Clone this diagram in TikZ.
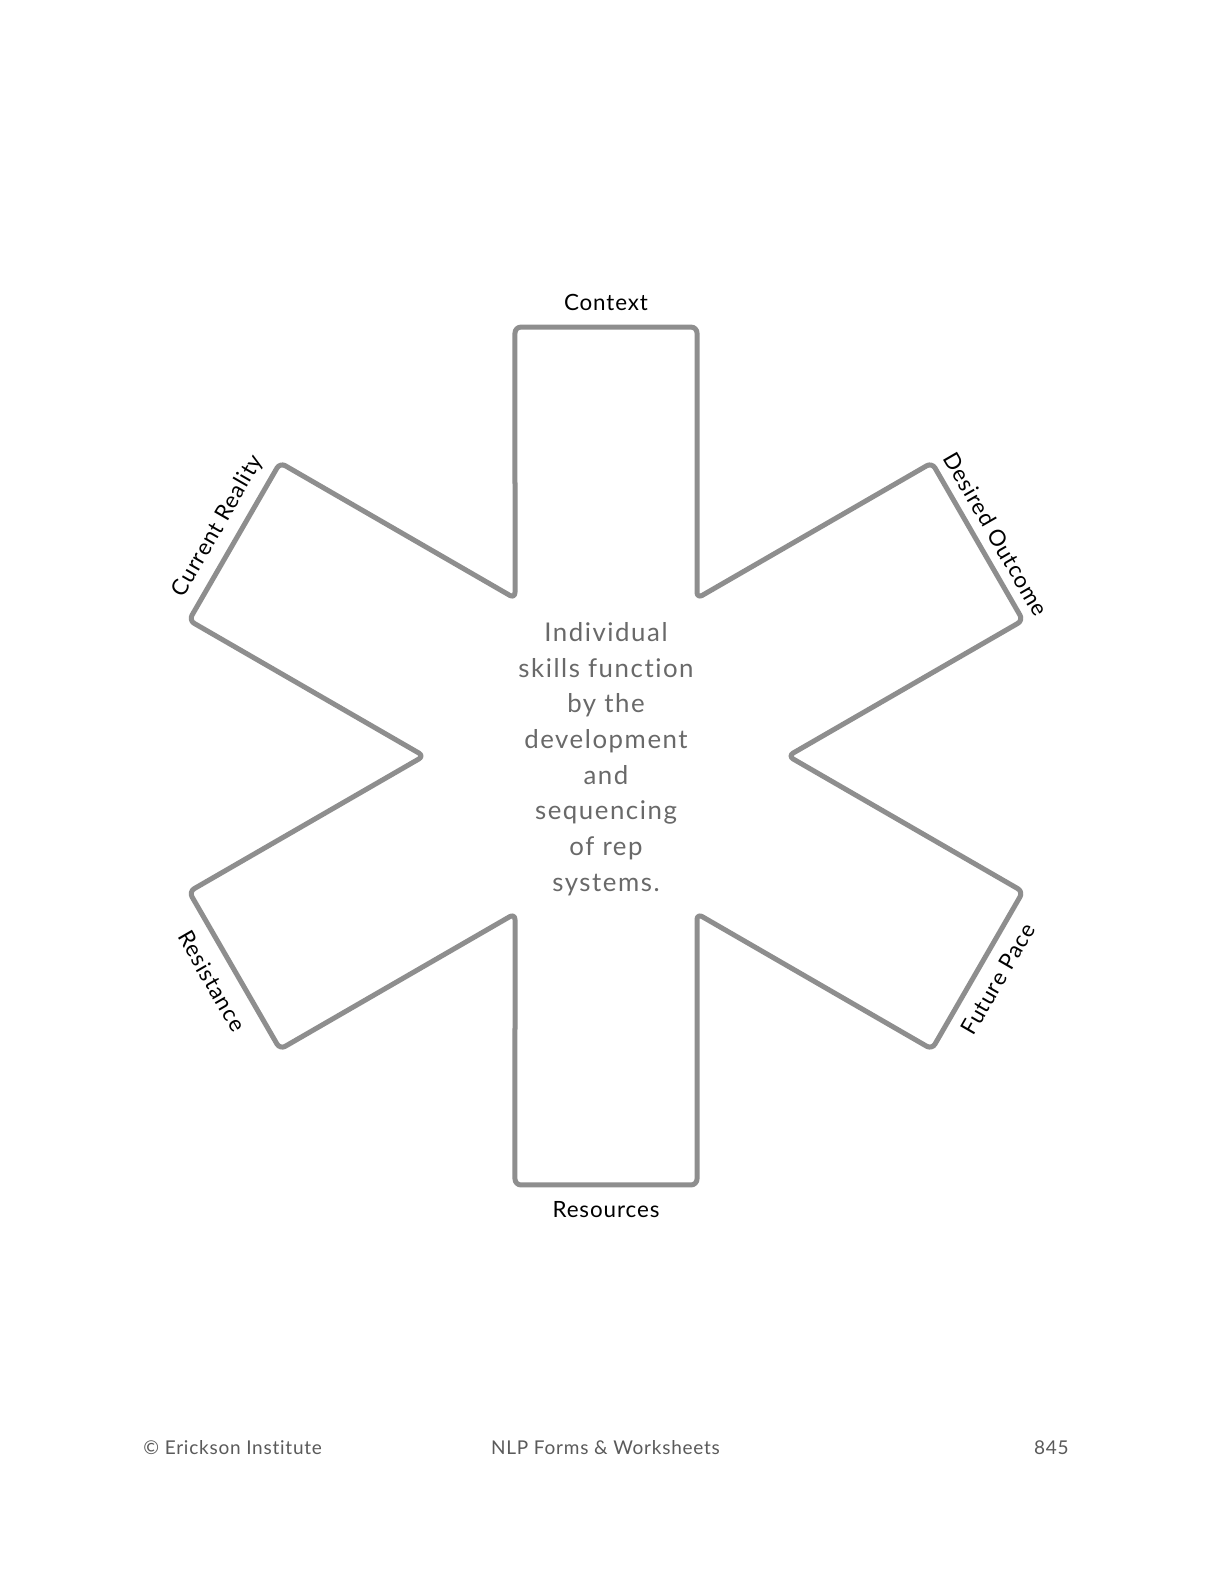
\documentclass[tikz,border=0pt]{standalone}
\usepackage{fontspec}
\setmainfont{Lato}[Ligatures=NoCommon]
\newfontfamily\spacedfont[LetterSpace=6,Ligatures=NoCommon]{Lato}
\newfontfamily\labelfont[LetterSpace=4,Ligatures=NoCommon]{Lato}
\definecolor{armgray}{RGB}{142,142,142}
\definecolor{midgray}{RGB}{105,105,105}
\definecolor{footgray}{RGB}{90,90,90}
\begin{document}
\begin{tikzpicture}[x=0.5pt,y=-0.5pt,
  armline/.style={draw=armgray,line width=2.5pt,rounded corners=3pt,line join=round},
  armlabel/.style={font=\labelfont\fontsize{11.2}{13}\selectfont,text=black,inner sep=0pt},
  foot/.style={font=\labelfont\fontsize{9.5}{11}\selectfont,text=footgray,inner sep=0pt}]
\useasboundingbox[fill=white] (0,0) rectangle (1224,1584);
\coordinate (c) at (606,756);
\begin{scope}[shift={(c)},yscale=-1]
\draw[armline] (60:182) -- (78.02:438.5) -- (101.98:438.5) -- (120:182)
  -- (138.02:438.5) -- (161.98:438.5) -- (180:182)
  -- (198.02:438.5) -- (221.98:438.5) -- (240:182)
  -- (258.02:438.5) -- (281.98:438.5) -- (300:182)
  -- (318.02:438.5) -- (341.98:438.5) -- (0:182)
  -- (18.02:438.5) -- (41.98:438.5) -- cycle;
\end{scope}
\node[armlabel] (context) at (606,302) {Context};
\node[armlabel] (resources) at (606,1210) {Resources};
\node[armlabel,rotate=60] (current) at (218,526) {Current Reality};
\node[armlabel,rotate=-60] (desired) at (996,534) {Desired Outcome};
\node[armlabel,rotate=-60] (resist) at (212,981) {Resistance};
\node[armlabel,rotate=60] (future) at (998,979) {Future Pace};
\node[align=center,text=midgray,inner sep=0pt,font=\spacedfont\fontsize{12.9}{17.85}\selectfont] (center) at (606,759)
  {Individual\\skills function\\by the\\development\\and\\sequencing\\of rep\\systems.};
\node[foot,anchor=west] (copy) at (143,1448) {© Erickson Institute};
\node[foot] (title) at (605.5,1448) {NLP Forms \& Worksheets};
\node[foot,anchor=east] (page) at (1069,1448) {845};
\end{tikzpicture}
\end{document}
